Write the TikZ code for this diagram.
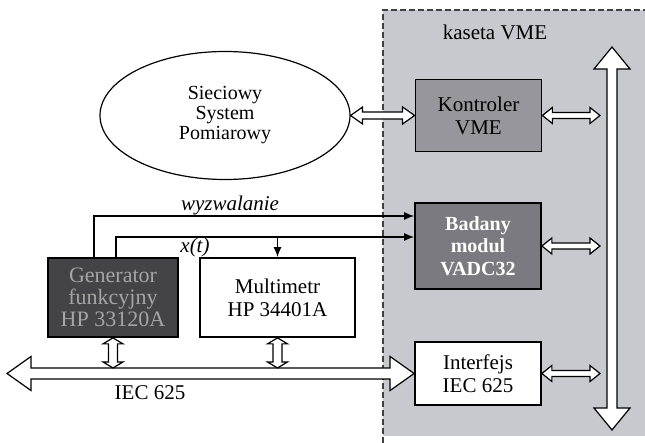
\documentclass[tikz,border=0pt]{standalone}
\usepackage{fontspec}
\setmainfont{Liberation Serif}
\usetikzlibrary{positioning, arrows.meta, calc, shapes.geometric}
\definecolor{kaseta}{RGB}{200,201,207}
\definecolor{kontr}{RGB}{150,150,156}
\definecolor{badany}{RGB}{122,122,128}
\definecolor{gener}{RGB}{68,68,72}
\definecolor{gentxt}{RGB}{165,165,165}

\newcommand{\hstrz}[5]{\draw[strz] (#1) -- ([shift={(#5,#4)}]#1) -- ([shift={(#5,#3)}]#1) -- ([shift={(-#5,#3)}]#2) -- ([shift={(-#5,#4)}]#2) -- (#2) -- ([shift={(-#5,-#4)}]#2) -- ([shift={(-#5,-#3)}]#2) -- ([shift={(#5,-#3)}]#1) -- ([shift={(#5,-#4)}]#1) -- cycle;}
\newcommand{\vstrz}[5]{\draw[strz] (#1) -- ([shift={(#4,#5)}]#1) -- ([shift={(#3,#5)}]#1) -- ([shift={(#3,-#5)}]#2) -- ([shift={(#4,-#5)}]#2) -- (#2) -- ([shift={(-#4,-#5)}]#2) -- ([shift={(-#3,-#5)}]#2) -- ([shift={(-#3,#5)}]#1) -- ([shift={(-#4,#5)}]#1) -- cycle;}

\begin{document}
\begin{tikzpicture}[x=0.5pt, y=-0.5pt, font=\fontsize{10.5}{11.5}\selectfont,
          blok/.style={draw, line width=0.9pt, minimum width=63pt, align=center, inner sep=1pt},
          strz/.style={draw, fill=white, line width=0.6pt, line join=miter},
          sig/.style={-{Latex[length=5pt, width=4pt]}, line width=0.6pt},
          lab/.style={font=\fontsize{10.5}{11.5}\selectfont\itshape}]
        \useasboundingbox (0,0) rectangle (645,443);
        \fill[kaseta] (383,10) rectangle (645,436);
        \draw[dash pattern=on 3pt off 1.5pt, line width=0.6pt, black!75] (383,443) -- (383,10) -- (645,10);
        \node (kv) at (495,32) {kaseta VME};
        \node[ellipse, draw, line width=0.6pt, minimum width=125pt, minimum height=64pt, inner sep=0pt, align=center,
              font=\fontsize{10}{10}\selectfont] (S) at (225,115.5) {Sieciowy\\System\\Pomiarowy};
        \node[blok, fill=kontr, minimum height=36pt] (K) at (478.5,115.5) {Kontroler\\VME};
        \node[blok, fill=badany, minimum height=43pt, text=white, font=\fontsize{10}{11.3}\selectfont\bfseries] (B) at (478,246) {Badany\\modul\\VADC32};
        \node[blok, fill=white, minimum height=31.5pt] (I) at (478,373.5) {Interfejs\\IEC 625};
        \node[blok, fill=gener, minimum width=65pt, minimum height=39.5pt, text=gentxt, font=\fontsize{11}{11}\selectfont] (G) at (113,297.5) {Generator\\funkcyjny\\HP 33120A};
        \node[blok, fill=white, minimum width=77.5pt, minimum height=39.5pt] (M) at (277.5,297.5) {Multimetr\\HP 34401A};
        \node[lab] (wy) at (230,205) {wyzwalanie};
        \node[lab] (xt) at (195,247) {x(t)};
        \node (iec) at (150,393) {IEC 625};
        \coordinate (vb) at (600,0);
        \coordinate (bt) at (0,368);
        \coordinate (bl) at (7,373.5);
        \coordinate (vt) at (612,47);
        \coordinate (vd) at (612,430);
        \coordinate (k2) at (K.east -| vb);
        \coordinate (b2) at (B.east -| vb);
        \coordinate (i2) at (I.east -| vb);
        \coordinate (g2) at (G.south |- bt);
        \coordinate (m2) at (M.south |- bt);
        \draw[sig] ([xshift=-9.5pt]G.north) |- ([yshift=15pt]B.west);
        \draw[sig] ([xshift=1.5pt]G.north) |- ([yshift=4.5pt]B.west);
        \draw[sig] ([yshift=10.5pt]M.north) -- (M.north);
        \hstrz{S.east}{K.west}{3.5}{8.5}{12}
        \hstrz{K.east}{k2}{3}{8}{10} \hstrz{B.east}{b2}{3}{8}{10} \hstrz{I.east}{i2}{3}{8}{10}
        \hstrz{bl}{I.west}{5.5}{17}{24}
        \vstrz{G.south}{g2}{4.5}{10}{6} \vstrz{M.south}{m2}{4.5}{10}{6}
        \vstrz{vt}{vd}{5}{18}{22}
      \end{tikzpicture}
\end{document}
